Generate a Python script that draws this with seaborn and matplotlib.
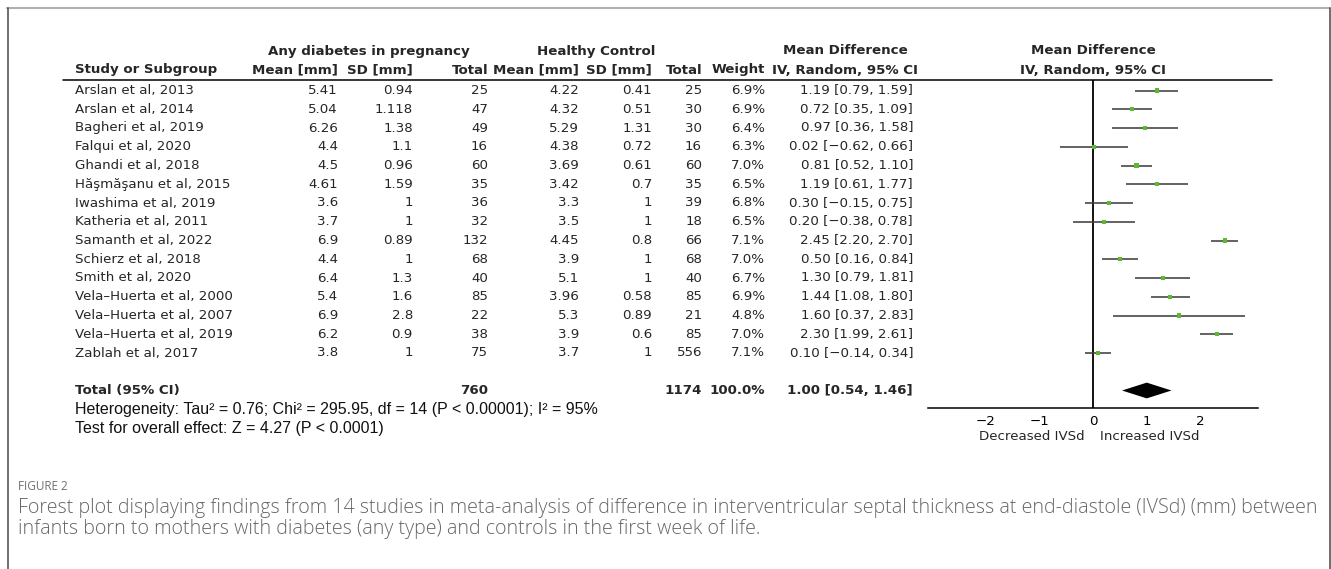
import matplotlib
matplotlib.use("Agg")
import matplotlib.pyplot as plt
import matplotlib.transforms as mtransforms
from matplotlib.lines import Line2D
import seaborn as sns
import pandas as pd

# ---- data ----
studies = ["Arslan et al, 2013", "Arslan et al, 2014", "Bagheri et al, 2019", "Falqui et al, 2020",
           "Ghandi et al, 2018", "Hăşmăşanu et al, 2015", "Iwashima et al, 2019", "Katheria et al, 2011",
           "Samanth et al, 2022", "Schierz et al, 2018", "Smith et al, 2020", "Vela–Huerta et al, 2000",
           "Vela–Huerta et al, 2007", "Vela–Huerta et al, 2019", "Zablah et al, 2017"]
mean_dm = [5.41, 5.04, 6.26, 4.4, 4.5, 4.61, 3.6, 3.7, 6.9, 4.4, 6.4, 5.4, 6.9, 6.2, 3.8]
sd_dm = [0.94, 1.118, 1.38, 1.1, 0.96, 1.59, 1, 1, 0.89, 1, 1.3, 1.6, 2.8, 0.9, 1]
n_dm = [25, 47, 49, 16, 60, 35, 36, 32, 132, 68, 40, 85, 22, 38, 75]
mean_hc = [4.22, 4.32, 5.29, 4.38, 3.69, 3.42, 3.3, 3.5, 4.45, 3.9, 5.1, 3.96, 5.3, 3.9, 3.7]
sd_hc = [0.41, 0.51, 1.31, 0.72, 0.61, 0.7, 1, 1, 0.8, 1, 1, 0.58, 0.89, 0.6, 1]
n_hc = [25, 30, 30, 16, 60, 35, 39, 18, 66, 68, 40, 85, 21, 85, 556]
weight = [6.9, 6.9, 6.4, 6.3, 7.0, 6.5, 6.8, 6.5, 7.1, 7.0, 6.7, 6.9, 4.8, 7.0, 7.1]
md = [1.19, 0.72, 0.97, 0.02, 0.81, 1.19, 0.30, 0.20, 2.45, 0.50, 1.30, 1.44, 1.60, 2.30, 0.10]
ci_lo = [0.79, 0.35, 0.36, -0.62, 0.52, 0.61, -0.15, -0.38, 2.20, 0.16, 0.79, 1.08, 0.37, 1.99, -0.14]
ci_hi = [1.59, 1.09, 1.58, 0.66, 1.10, 1.77, 0.75, 0.78, 2.70, 0.84, 1.81, 1.80, 2.83, 2.61, 0.34]
total_n_dm = 760
total_n_hc = 1174
total_md, total_lo, total_hi = 1.00, 0.54, 1.46
x_ticks = [-2, -1, 0, 1, 2]

heterogeneity = "Heterogeneity: Tau² = 0.76; Chi² = 295.95, df = 14 (P < 0.00001); I² = 95%"
overall = "Test for overall effect: Z = 4.27 (P < 0.0001)"
caption1 = ("Forest plot displaying findings from 14 studies in meta-analysis of difference in interventricular "
            "septal thickness at end-diastole (IVSd) (mm) between")
caption2 = "infants born to mothers with diabetes (any type) and controls in the first week of life."

df = pd.DataFrame({"study": studies, "md": md, "lo": ci_lo, "hi": ci_hi,
                   "row": list(range(len(studies)))})

# ---- layout helpers (pixel -> figure fraction) ----
W, H = 1331, 569
def fx(px):
    return px / W
def fy(py):
    return 1 - py / H

sns.set_style("white")
plt.rcParams["font.family"] = ["DejaVu Sans"]
FS = 9.6
ROW0, PITCH = 90.5, 18.75   # pixel centre of first row and row pitch

fig = plt.figure(figsize=(W / 100, H / 100), dpi=100)

ax_top, ax_bot = 79.5, 408
ax = fig.add_axes([fx(928), fy(ax_bot), (1258 - 928) / W, (ax_bot - ax_top) / H])
ax.set_xlim(-3.07, 3.07)
ax.set_ylim((ax_bot - ROW0) / PITCH, (ax_top - ROW0) / PITCH)

# CI whiskers and point estimates
ax.hlines(df["row"], df["lo"], df["hi"], color="#404040", lw=1.15, zorder=2)
sns.scatterplot(data=df, x="md", y="row", marker="s", s=9, color="#5cbb2c",
                edgecolor="none", zorder=3, ax=ax, legend=False)

# pooled diamond
total_row = 16
half = 0.42
ax.fill([total_lo, total_md, total_hi, total_md],
        [total_row, total_row - half, total_row, total_row + half], color="black", lw=0, zorder=3)

ax.axvline(0, color="black", lw=1.3, zorder=1)
for s in ["top", "right", "left"]:
    ax.spines[s].set_visible(False)
ax.spines["bottom"].set_color("black")
ax.spines["bottom"].set_linewidth(1.1)
ax.set_xticks(x_ticks)
ax.set_yticks([])
ax.tick_params(axis="x", direction="inout", length=8, width=1, pad=1, labelsize=FS, colors="black")
ax.set_xlabel("")
ax.set_ylabel("")

tb = mtransforms.blended_transform_factory(ax.transData, fig.transFigure)
ax.text(-0.15, fy(437), "Decreased IVSd", transform=tb, ha="right", va="center", fontsize=FS)
ax.text(0.13, fy(437), "Increased IVSd", transform=tb, ha="left", va="center", fontsize=FS)

# ---- table text ----
rowtf = mtransforms.blended_transform_factory(fig.transFigure, ax.transData)
cols = {"study": 75, "m1": 338, "s1": 413, "n1": 488, "m2": 579, "s2": 652, "n2": 702, "w": 765, "ci": 913}

def fmt(v):
    return f"{v:.2f}".replace("-", "−")

for i in range(len(studies)):
    ax.text(fx(cols["study"]), i, studies[i], transform=rowtf, ha="left", va="center", fontsize=FS)
    vals = [("m1", mean_dm[i]), ("s1", sd_dm[i]), ("n1", n_dm[i]), ("m2", mean_hc[i]),
            ("s2", sd_hc[i]), ("n2", n_hc[i])]
    for key, v in vals:
        ax.text(fx(cols[key]), i, str(v), transform=rowtf, ha="right", va="center", fontsize=FS)
    ax.text(fx(cols["w"]), i, f"{weight[i]:.1f}%", transform=rowtf, ha="right", va="center", fontsize=FS)
    ax.text(fx(cols["ci"]), i, f"{fmt(md[i])} [{fmt(ci_lo[i])}, {fmt(ci_hi[i])}]", transform=rowtf,
            ha="right", va="center", fontsize=FS)

bold = dict(transform=rowtf, va="center", fontsize=FS, fontweight="bold")
ax.text(fx(cols["study"]), total_row, "Total (95% CI)", ha="left", **bold)
ax.text(fx(cols["n1"]), total_row, str(total_n_dm), ha="right", **bold)
ax.text(fx(cols["n2"]), total_row, str(total_n_hc), ha="right", **bold)
ax.text(fx(cols["w"]), total_row, "100.0%", ha="right", **bold)
ax.text(fx(cols["ci"]), total_row, f"{fmt(total_md)} [{fmt(total_lo)}, {fmt(total_hi)}]", ha="right", **bold)

narrow = ["Liberation Sans Narrow", "Liberation Sans"]
t_het = ax.text(fx(75), 17, heterogeneity, transform=rowtf, ha="left", va="center",
                fontsize=10, family=narrow, color="#111111")
t_ov = ax.text(fx(75), 18, overall, transform=rowtf, ha="left", va="center",
               fontsize=10, family=narrow, color="#111111")

# headers
hb = dict(fontsize=FS, fontweight="bold", va="center")
fig.text(fx(369), fy(51), "Any diabetes in pregnancy", ha="center", **hb)
fig.text(fx(596), fy(51), "Healthy Control", ha="center", **hb)
fig.text(fx(845), fy(51), "Mean Difference", ha="center", **hb)
fig.text(fx(1093), fy(51), "Mean Difference", ha="center", **hb)
fig.text(fx(cols["study"]), fy(70), "Study or Subgroup", ha="left", **hb)
for key, lab in [("m1", "Mean [mm]"), ("s1", "SD [mm]"), ("n1", "Total"), ("m2", "Mean [mm]"),
                 ("s2", "SD [mm]"), ("n2", "Total"), ("w", "Weight")]:
    fig.text(fx(cols[key]), fy(70), lab, ha="right", **hb)
fig.text(fx(845), fy(70), "IV, Random, 95% CI", ha="center", **hb)
fig.text(fx(1093), fy(70), "IV, Random, 95% CI", ha="center", **hb)

fig.add_artist(Line2D([fx(63), fx(1272)], [fy(79.5), fy(79.5)], color="black", lw=1.1))

# caption
cap_font = ["Open Sans", "DejaVu Sans"]
fig.text(fx(18), fy(487), "FIGURE 2", ha="left", va="center", fontsize=8.5, color="#707070", family=cap_font)
c1 = fig.text(fx(18), fy(508), caption1, ha="left", va="center", fontsize=12, color="#666666",
              family=cap_font, fontweight="light")
c2 = fig.text(fx(18), fy(529), caption2, ha="left", va="center", fontsize=12, color="#666666",
              family=cap_font, fontweight="light")

# fit a few text lines to the widths measured on the reference
r = fig.canvas.get_renderer()
def fit(t, target):
    w = t.get_window_extent(renderer=r).width
    t.set_fontsize(t.get_fontsize() * target / w)
    return t.get_fontsize()
fs_cap = fit(c1, 1295)
c2.set_fontsize(fs_cap)
fs_het = fit(t_het, 522)
t_ov.set_fontsize(fs_het)

# outer frame
fig.add_artist(Line2D([fx(7), fx(1330)], [fy(7.5), fy(7.5)], color="#b0b0b0", lw=1.5))
fig.add_artist(Line2D([fx(7.5), fx(7.5)], [fy(7.5), 0], color="#555555", lw=1.2))
fig.add_artist(Line2D([fx(1329.5), fx(1329.5)], [fy(7.5), 0], color="#555555", lw=1.2))

fig.savefig("out.png", dpi=100)
